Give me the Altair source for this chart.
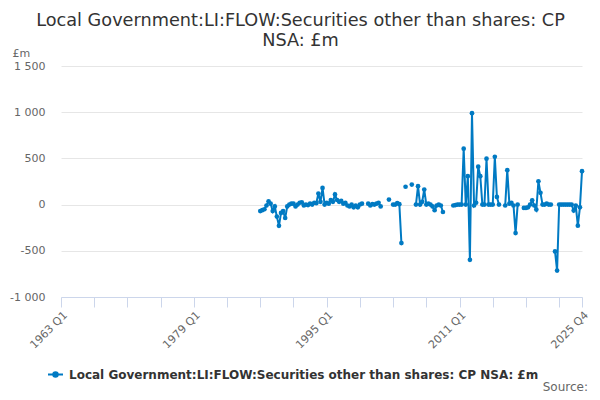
import altair as alt
import pandas as pd

TITLE = ["Local Government:LI:FLOW:Securities other than shares: CP", "NSA: £m"]
SERIES = "Local Government:LI:FLOW:Securities other than shares: CP NSA: £m"
FIRST_YEAR = 1963
START_YEAR = 1987
YEARS = list(range(START_YEAR, 2026))
QUARTERS = [f"{y} Q{q}" for y in YEARS for q in range(1, 5)]

VALUES = [
    -70, -60, -50, -10,      # 1987
    36, 10, -70, -20,        # 1988
    -130, -230, -90, -70,    # 1989
    -145, -20, 0, 10,        # 1990
    10, -20, 0, 20,          # 1991
    25, -10, 0, -5,          # 1992
    10, 0, 20, 15,           # 1993
    120, 30, 181, 0,         # 1994
    20, 10, 50, 30,          # 1995
    110, 50, 30, 40,         # 1996
    10, 20, -10, -20,        # 1997
    0, -30, -10, -30,        # 1998
    0, 10, None, None,       # 1999
    10, -10, 5, 0,           # 2000
    10, 20, -20, None,       # 2001
    None, None, 54, None,    # 2002
    0, 0, 15, 5,             # 2003
    -416, None, 193, None,   # 2004
    None, 217, None, 0,      # 2005
    199, 0, 30, 163,         # 2006
    0, 10, 0, -20,           # 2007
    -60, -10, 0, -10,        # 2008
    -80, None, None, None,   # 2009
    None, -10, -5, 0,        # 2010
    0, 0, 605, 0,            # 2011
    308, -598, 989, -10,     # 2012
    20, 410, 308, 0,         # 2013
    0, 497, 0, 0,            # 2014
    0, 518, 83, 0,           # 2015
    None, None, -10, 373,    # 2016
    10, 18, -10, -308,       # 2017
    0, None, None, -36,      # 2018
    -36, -30, 0, 47,         # 2019
    -10, -54, 253, 127,      # 2020
    0, 0, 10, 0,             # 2021
    0, None, -507, -714,     # 2022
    0, 0, 0, 0,              # 2023
    0, 0, 0, -65,            # 2024
    -10, -228, -30, 362,     # 2025
]

X_TICKS = list(range(0, 241, 16)) + [251]
X_LABEL_POS = [0, 64, 128, 192, 251]
X_LABELS = ["1963 Q1", "1979 Q1", "1995 Q1", "2011 Q1", "2025 Q4"]
Y_TICKS = [-1000, -500, 0, 500, 1000, 1500]

BLUE = "#007ac3"

rows = []
seg = 0
for label, v in zip(QUARTERS, VALUES):
    if v is None:
        seg += 1
        continue
    y, q = label.split(" Q")
    idx = (int(y) - FIRST_YEAR) * 4 + int(q) - 1
    rows.append({"quarter": label, "q": idx, "value": v, "segment": seg, "series": SERIES})
df = pd.DataFrame(rows)

x_expr = "''"
for pos, lab in zip(reversed(X_LABEL_POS), reversed(X_LABELS)):
    x_expr = f"datum.value == {pos} ? '{lab}' : ({x_expr})"

y_expr = "(datum.value < 0 ? '-' : '') + replace(format(abs(datum.value), ','), ',', ' ')"

sym_path = "M-1,0L1,0M-0.3,0A0.3,0.3 0 1,0 0.3,0A0.3,0.3 0 1,0 -0.3,0Z"

line = alt.Chart(df).mark_line(
    strokeWidth=2,
    point=alt.OverlayMarkDef(filled=True, size=22, color=BLUE),
).encode(
    x=alt.X(
        "q:Q",
        scale=alt.Scale(domain=[0, 251], nice=False, zero=False),
        axis=alt.Axis(
            values=X_TICKS, labelExpr=x_expr, labelAngle=-45, labelAlign="right",
            labelBaseline="top", labelOverlap=False, labelFlush=False, title=None,
            grid=False, domainColor="#ccd6eb", tickColor="#ccd6eb", tickSize=10,
            labelColor="#666666", labelFontSize=11, labelFont="DejaVu Sans", labelPadding=2,
        ),
    ),
    y=alt.Y(
        "value:Q",
        scale=alt.Scale(domain=[-1000, 1500], nice=False),
        axis=alt.Axis(
            values=Y_TICKS, labelExpr=y_expr, title="£m", titleAngle=0,
            titleAlign="left", titleX=-49, titleY=-10, titleBaseline="alphabetic",
            titleFont="DejaVu Sans", titleFontSize=11, titleFontWeight="normal",
            titleColor="#666666", domain=False, ticks=False, gridColor="#e6e6e6",
            labelColor="#666666", labelFontSize=11, labelFont="DejaVu Sans", labelPadding=16,
        ),
    ),
    color=alt.Color(
        "series:N",
        scale=alt.Scale(range=[BLUE]),
        legend=alt.Legend(
            title=None, orient="none", legendX=-14, legendY=300,
            symbolType=sym_path, symbolSize=225, symbolStrokeWidth=2,
            symbolFillColor=BLUE, symbolStrokeColor=BLUE,
            labelFont="DejaVu Sans", labelFontSize=12, labelFontWeight="bold",
            labelColor="#333333", labelLimit=600, labelOffset=5,
        ),
    ),
    detail="segment:N",
)

source = alt.Chart(pd.DataFrame({"t": ["Source:"]})).mark_text(
    align="right", baseline="middle", font="DejaVu Sans", fontSize=12, color="#666666"
).encode(x=alt.value(527), y=alt.value(321), text="t:N")

chart = alt.layer(line, source).properties(
    width=521,
    height=231,
    padding={"left": 53, "top": 58, "right": 10, "bottom": 96},
    autosize="none",
    title=alt.TitleParams(
        text=TITLE, font="DejaVu Sans", fontSize=17.7, fontWeight="normal",
        color="#333333", anchor="middle", dx=-21, lineHeight=20, offset=-3,
    ),
).configure_view(stroke=None)

chart.save("out.html", embed_options={"renderer": "svg", "actions": False})
